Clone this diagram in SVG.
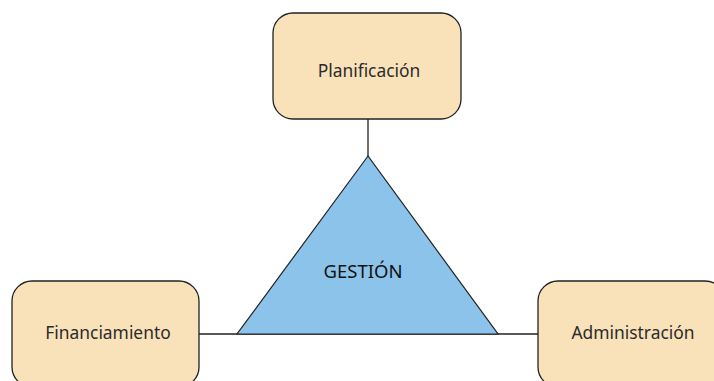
<svg xmlns="http://www.w3.org/2000/svg" width="714" height="381" viewBox="0 0 714 381">
<style>
.box{fill:#F9E2BA;stroke:#222;stroke-width:1.3}
.lbl{font-family:"Noto Sans",sans-serif;font-size:17.4px;fill:#2b2b2b;text-anchor:middle;dominant-baseline:central}
.conn{stroke:#222;stroke-width:1.3;fill:none}
</style>
<rect width="714" height="381" fill="#fff"/>
<g id="connectors">
<line class="conn" x1="368" y1="119" x2="368" y2="157"/>
<line class="conn" x1="199" y1="334" x2="538" y2="334" stroke-width="1.8"/>
</g>
<g id="gestion">
<polygon points="368,156 237,334 498,334" fill="#8BC3EA" stroke="#222" stroke-width="1.2"/>
<text class="lbl" x="363" y="270" style="font-size:18.5px;fill:#111">GESTIÓN</text>
</g>
<g id="planificacion">
<rect class="box" x="273" y="13" width="188" height="106" rx="20"/>
<text class="lbl" x="369" y="70">Planificación</text>
</g>
<g id="financiamiento">
<rect class="box" x="12" y="281" width="187" height="106" rx="20"/>
<text class="lbl" x="108" y="332">Financiamiento</text>
</g>
<g id="administracion">
<rect class="box" x="538" y="281" width="187" height="106" rx="20"/>
<text class="lbl" x="633" y="332">Administración</text>
</g>
</svg>
